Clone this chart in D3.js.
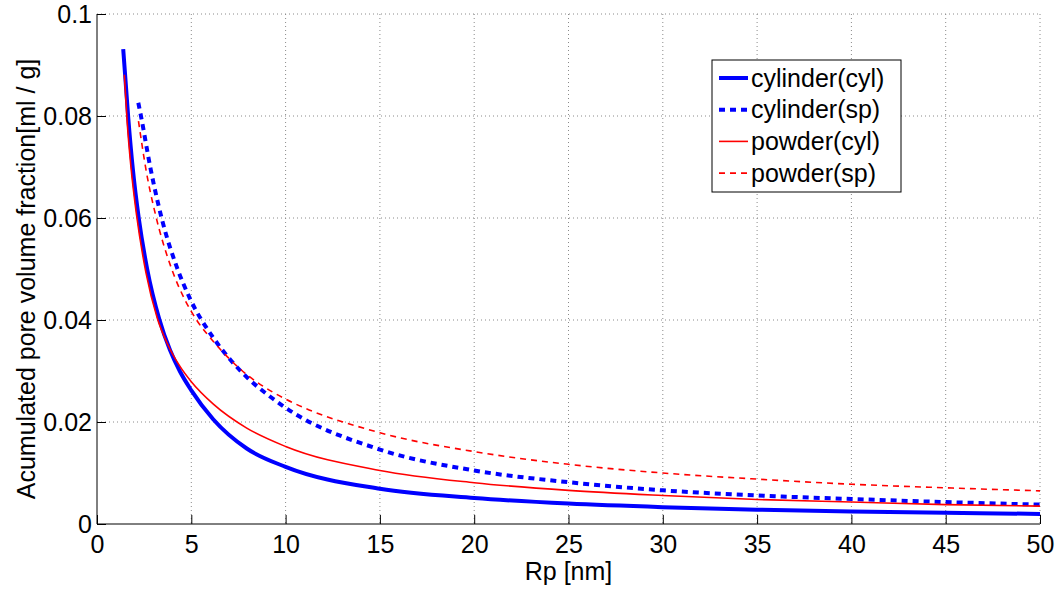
<!DOCTYPE html>
<head>
  <meta charset="utf-8">
  <script src="https://d3js.org/d3.v7.min.js"></script>
  <style>
    body { margin:0; background:#fff; }
    text { font-family: "Liberation Sans", Arial, sans-serif; }
  </style>
</head>

<body>
  <script>

  var width = 1061;
  var height = 589;
  var margin = {top: 14, right: 21, bottom: 65, left: 97};
  var innerW = width - margin.left - margin.right,
      innerH = height - margin.top - margin.bottom;

  // radius Rp [nm] and cumulative pore volume [ml/g]
  var cylCylX = [1.39, 1.66, 1.9, 2.22, 2.66, 3.3, 3.87, 4.4, 5, 6.17, 7.94, 10, 15, 20, 25, 30, 35, 40, 45, 50];
  var cylCylY = [0.0931, 0.0795, 0.0696, 0.0598, 0.0500, 0.0402, 0.0341, 0.0299, 0.0262, 0.0205, 0.0148, 0.0112, 0.0069, 0.0051, 0.0040, 0.0033, 0.0028, 0.00245, 0.0022, 0.00198];

  var cylSpX = [2.19, 2.32, 2.85, 3.46, 4.22, 4.93, 6.17, 7.05, 7.94, 9.17, 10, 15, 20, 25, 30, 35, 40, 45, 50];
  var cylSpY = [0.0826, 0.0802, 0.0695, 0.0595, 0.0505, 0.0442, 0.0365, 0.0323, 0.0288, 0.0250, 0.0228, 0.0146, 0.0105, 0.0082, 0.0066, 0.0056, 0.0049, 0.0043, 0.0038];

  var powCylX = [1.45, 1.6, 1.8, 2.1, 2.6, 3.2, 3.75, 4.4, 5, 6.17, 7.94, 10, 15, 20, 25, 30, 35, 40, 45, 50];
  var powCylY = [0.0881, 0.0788, 0.0700, 0.0605, 0.0492, 0.0403, 0.0352, 0.0309, 0.0279, 0.0235, 0.0188, 0.0152, 0.0105, 0.0081, 0.0066, 0.0056, 0.0048, 0.0043, 0.0038, 0.0035];

  var powSpX = [2.2, 2.63, 3.08, 3.96, 4.67, 5.28, 6.17, 7.94, 9.3, 10, 15, 20, 25, 30, 35, 40, 45, 50];
  var powSpY = [0.0790, 0.0688, 0.0610, 0.0500, 0.0439, 0.0400, 0.0358, 0.0293, 0.0259, 0.0245, 0.0179, 0.0142, 0.0117, 0.0100, 0.0088, 0.0078, 0.0071, 0.0065];

  var seriesNames = ["cylinder(cyl)", "cylinder(sp)", "powder(cyl)", "powder(sp)"];
  var xTicks = [0, 5, 10, 15, 20, 25, 30, 35, 40, 45, 50];
  var yTicks = [0, 0.02, 0.04, 0.06, 0.08, 0.1];

  function zip(xs, ys) {
    return xs.map(function(x, i) { return [x, ys[i]]; });
  }

  var series = [
    {name: seriesNames[0], pts: zip(cylCylX, cylCylY), color: "#0000ff", w: 4, dash: null},
    {name: seriesNames[1], pts: zip(cylSpX, cylSpY), color: "#0000ff", w: 4, dash: "6,5"},
    {name: seriesNames[2], pts: zip(powCylX, powCylY), color: "#ff0000", w: 1.6, dash: null},
    {name: seriesNames[3], pts: zip(powSpX, powSpY), color: "#ff0000", w: 1.6, dash: "6,5"}
  ];

  var xScale = d3.scaleLinear().domain([0, 50]).range([0, innerW]);
  var yScale = d3.scaleLinear().domain([0, 0.1]).range([innerH, 0]);

  var svg = d3.select("body").append("svg")
    .attr("width", width)
    .attr("height", height)
    .append("g")
    .attr("transform", "translate(" + margin.left + "," + margin.top + ")");

  // dotted grid
  svg.selectAll(".gx").data(xTicks.slice(1)).enter().append("line")
    .attr("x1", function(d) { return xScale(d); })
    .attr("x2", function(d) { return xScale(d); })
    .attr("y1", 0).attr("y2", innerH)
    .attr("stroke", "#8a8a8a").attr("stroke-dasharray", "1,3");
  svg.selectAll(".gy").data(yTicks.slice(1)).enter().append("line")
    .attr("y1", function(d) { return yScale(d); })
    .attr("y2", function(d) { return yScale(d); })
    .attr("x1", 0).attr("x2", innerW)
    .attr("stroke", "#8a8a8a").attr("stroke-dasharray", "1,3");

  // axes, ticks pointing inward
  var xAxis = d3.axisBottom(xScale).tickValues(xTicks).tickSize(-9).tickPadding(11)
    .tickFormat(d3.format("d"));
  var yAxis = d3.axisLeft(yScale).tickValues(yTicks).tickSize(-9).tickPadding(5)
    .tickFormat(function(d) { return d === 0 ? "0" : String(+d.toFixed(2)); });

  var gx = svg.append("g").attr("transform", "translate(0," + innerH + ")").call(xAxis);
  var gy = svg.append("g").call(yAxis);
  [gx, gy].forEach(function(g) {
    g.select(".domain").attr("stroke", "#000").attr("stroke-width", 1);
    g.selectAll(".tick line").attr("stroke", "#000");
    g.selectAll(".tick text").attr("fill", "#000")
      .style("font-size", "25px").style("font-family", "'Liberation Sans', Arial, sans-serif");
  });
  gx.select(".domain").attr("d", "M0,0H" + innerW);
  gy.select(".domain").attr("d", "M0," + innerH + "V0");

  // curves
  var line = d3.line()
    .x(function(d) { return xScale(d[0]); })
    .y(function(d) { return yScale(d[1]); })
    .curve(d3.curveMonotoneX);

  svg.selectAll(".series").data(series).enter().append("path")
    .attr("d", function(d) { return line(d.pts); })
    .attr("fill", "none")
    .attr("stroke", function(d) { return d.color; })
    .attr("stroke-width", function(d) { return d.w; })
    .attr("stroke-dasharray", function(d) { return d.dash; });

  // axis titles
  svg.append("text")
    .attr("x", xScale(25)).attr("y", innerH + 56)
    .attr("text-anchor", "middle")
    .style("font-size", "25px")
    .text("Rp [nm]");

  svg.append("text")
    .attr("transform", "translate(" + (35 - margin.left) + "," + (innerH / 2 + 10) + ") rotate(-90)")
    .attr("text-anchor", "middle")
    .style("font-size", "25px")
    .text("Acumulated pore volume fraction[ml / g]");

  // legend
  var lg = svg.append("g").attr("transform", "translate(" + (712 - margin.left) + "," + (60 - margin.top) + ")");
  lg.append("rect")
    .attr("width", 189).attr("height", 132)
    .attr("fill", "#fff").attr("stroke", "#000").attr("stroke-width", 1);
  var rows = lg.selectAll(".row").data(series).enter().append("g")
    .attr("transform", function(d, i) { return "translate(0," + (18 + i * 31.7) + ")"; });
  rows.append("line")
    .attr("x1", 7).attr("x2", 36)
    .attr("stroke", function(d) { return d.color; })
    .attr("stroke-width", function(d) { return d.w; })
    .attr("stroke-dasharray", function(d) { return d.dash; });
  rows.append("text")
    .attr("x", 39).attr("dy", "0.35em")
    .style("font-size", "25px")
    .text(function(d) { return d.name; });

  </script>
</body>
